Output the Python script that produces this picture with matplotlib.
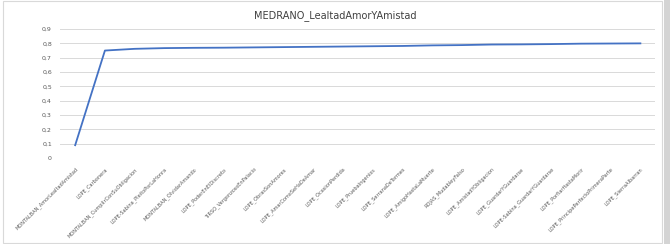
import matplotlib.pyplot as plt
from matplotlib.patches import Rectangle

# Data
obras = [
    'MONTALBAN_AmorLealtadAmistad',
    'LOPE_Carbonera',
    'MONTALBAN_CumplirConSuObligacion',
    'LOPE-Sabina_PleitoPorLaHonra',
    'MONTALBAN_OlvidarAmando',
    'LOPE_PoderEnElDiscreto',
    'TIRSO_VergonzosoEnPalacio',
    'LOPE_ObrasSonAmores',
    'LOPE_AmarComoSeHaDeAmar',
    'LOPE_OcasionPerdida',
    'LOPE_PruebaIngenios',
    'LOPE_SerranaDeTormes',
    'LOPE_AmigoHastaLaMuerte',
    'ROJAS_MudableyFalso',
    'LOPE_AmistadYObligacion',
    'LOPE_GuardarYGuardarse',
    'LOPE-Sabina_GuardarYGuardarse',
    'LOPE_PorfiarHastaMorir',
    'LOPE_PrincipePerfectoPrimeraParte',
    'LOPE_SierraAlbarran',
]
similitud = [0.09, 0.75, 0.762, 0.767, 0.769, 0.77, 0.772, 0.774, 0.776, 0.778,
             0.78, 0.782, 0.786, 0.788, 0.792, 0.793, 0.795, 0.798, 0.799, 0.8]
yticks = [0, 0.1, 0.2, 0.3, 0.4, 0.5, 0.6, 0.7, 0.8, 0.9]

fig = plt.figure(figsize=(6.7, 2.44), dpi=100)
ax = fig.add_axes([0.09, 0.352, 0.888, 0.529])

# chart frame + right strip
fig.patches.append(Rectangle((0.004, 0.004), 0.984, 0.99, transform=fig.transFigure,
                             fill=False, edgecolor='#d9d9d9', linewidth=0.8))
fig.patches.append(Rectangle((0.991, 0), 0.009, 1, transform=fig.transFigure,
                             facecolor='#d4d4d4', edgecolor='none'))

ax.plot(range(len(similitud)), similitud, color='#4472c4', linewidth=1.3)

ax.set_xlim(-0.5, len(similitud) - 0.5)
ax.set_ylim(0, 0.9)
ax.set_yticks(yticks)
ax.set_yticklabels([str(v).replace('.', ',') for v in yticks], fontsize=4.5, color='#595959')
ax.set_xticks(range(len(obras)))
ax.set_xticklabels(obras, rotation=45, ha='right', rotation_mode='anchor',
                   fontsize=3.6, color='#595959')
ax.tick_params(length=0, pad=6)
ax.grid(axis='y', color='#d9d9d9', linewidth=0.7)
ax.set_axisbelow(True)
for s in ax.spines.values():
    s.set_visible(False)

fig.text(0.5, 0.935, 'MEDRANO_LealtadAmorYAmistad', ha='center', va='center',
         fontsize=7, color='#404040')

fig.savefig('out.png', dpi=100)
